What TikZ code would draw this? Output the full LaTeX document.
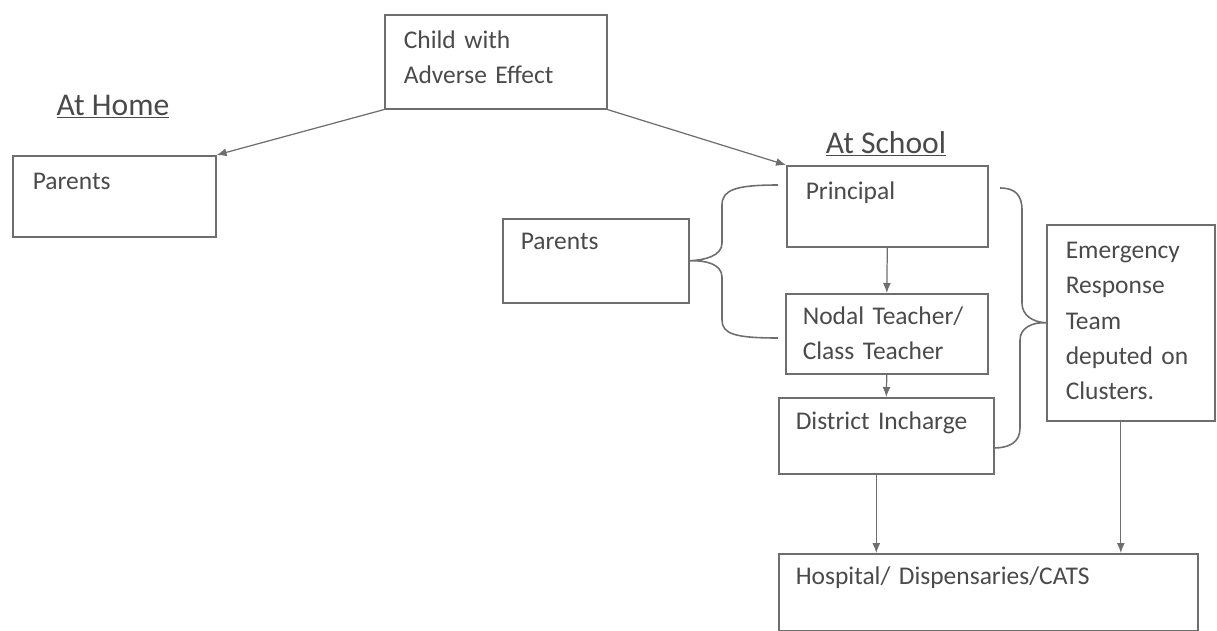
\documentclass[tikz,border=0pt]{standalone}
\usepackage{fontspec}
\setmainfont{Carlito}
\usetikzlibrary{positioning,arrows.meta}
\definecolor{ink}{HTML}{4A4A4A}
\definecolor{rule}{HTML}{6E6E6E}
\tikzset{
  box/.style={draw=rule, line width=0.9pt, anchor=north west, align=left,
    inner ysep=0pt, text=ink},
  head/.style={font=\fontsize{18}{22}\selectfont, text=ink, anchor=base},
  arr/.style={-{Latex[length=2mm,width=1.6mm]}, rule, line width=0.7pt},
  brc/.style={rule, line width=0.9pt},
}
\begin{document}
\begin{tikzpicture}[x=0.2mm, y=-0.2mm, font=\fontsize{14.5}{20}\selectfont]
    \useasboundingbox (0,0) rectangle (1217,630);
    \node[box, text width=36.8mm, inner xsep=3.8mm, text height=6.8mm, text depth=12mm] (child) at (384,14) {Child with\\Adverse Effect};
    \node[head] (home) at (113,115) {\underline{At Home}};
    \node[head] (school) at (886,153) {\underline{At School}};
    \node[box, text width=32.6mm, inner xsep=4mm, text height=6.8mm, text depth=9.4mm] (hparents) at (12,155) {Parents};
    \node[box, text width=32.6mm, inner xsep=3.8mm, text height=6.8mm, text depth=9.4mm] (principal) at (786,165) {Principal};
    \node[box, text width=30mm, inner xsep=3.6mm, text height=6.2mm, text depth=10.6mm] (sparents) at (502,218) {Parents};
    \node[box, text width=33.6mm, inner xsep=3.4mm, text height=6.2mm, text depth=9.8mm] (nodal) at (785,293) {Nodal Teacher/\\Class Teacher};
    \node[box, text width=36.2mm, inner xsep=3.4mm, text height=6.4mm, text depth=8.8mm] (district) at (778,397) {District Incharge};
    \node[box, text width=26mm, inner xsep=3.8mm, text height=6.8mm, text depth=32.4mm] (emerg) at (1046,224) {Emergency\\Response\\Team\\deputed on\\Clusters.};
    \node[box, text width=77mm, inner xsep=3.4mm, text height=6.2mm, text depth=9.2mm] (hospital) at (778,553) {Hospital/ Dispensaries/CATS};
    \coordinate (lbtop) at (778,185);
    \coordinate (lbbot) at (778,338);
    \coordinate (rbtop) at (1000,188);
    \coordinate (rbbot) at (993,448);
    \draw[arr] (child.south west) -- (hparents.north east);
    \draw[arr] (child.south east) -- (principal.north west);
    \draw[arr] (principal.south) -- (nodal.north);
    \draw[arr] (nodal.south) -- (district.north);
    \draw[arr] ([xshift=-2mm]district.south) -- ([xshift=-2mm]district.south |- hospital.north);
    \draw[arr] ([xshift=-2mm]emerg.south) -- ([xshift=-2mm]emerg.south |- hospital.north);
    \draw[brc] (lbtop) .. controls (735,185) and (722,190) .. (722,205) -- (722,243)
      .. controls (722,256) and (705,260) .. (sparents.east)
      .. controls (705,260) and (722,264) .. (722,277) -- (722,320)
      .. controls (722,334) and (735,338) .. (lbbot);
    \draw[brc] (rbtop) .. controls (1015,188) and (1022,195) .. (1022,210) -- (1022,303)
      .. controls (1022,315) and (1032,322) .. (emerg.west)
      .. controls (1032,322) and (1020,328) .. (1020,340) -- (1020,428)
      .. controls (1020,442) and (1010,448) .. (rbbot);
  \end{tikzpicture}
\end{document}
